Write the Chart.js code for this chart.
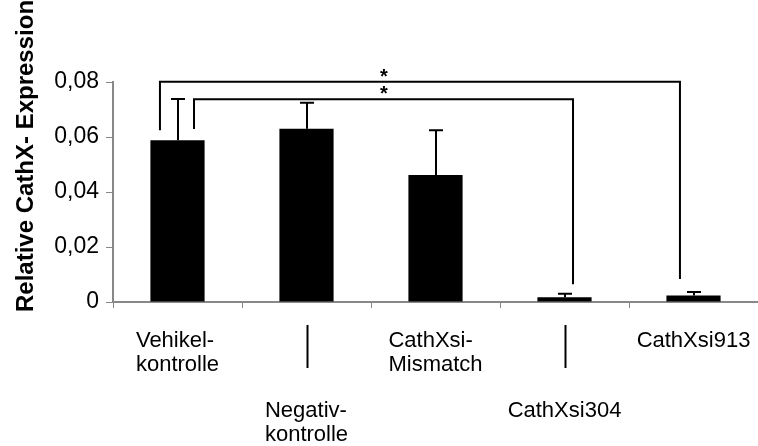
<!DOCTYPE html>
<html><head><meta charset="utf-8">
<script src="https://cdn.jsdelivr.net/npm/chart.js@4"></script>
<style>html,body{margin:0;padding:0;background:#fff}</style>
</head><body>
<canvas id="c" width="758" height="446"></canvas>
<script>
// ---- data ----
const categories = [['Vehikel-','kontrolle'],['Negativ-','kontrolle'],['CathXsi-','Mismatch'],['CathXsi304'],['CathXsi913']];
const labelRow = [0, 1, 0, 1, 0];
const means = [0.0588, 0.0630, 0.0462, 0.0017, 0.0024];
const errors = [0.0150, 0.0095, 0.0163, 0.0013, 0.0012];
const yTicks = [0, 0.02, 0.04, 0.06, 0.08];
const tickLabels = ['0', '0,02', '0,04', '0,06', '0,08'];
const yTitle = 'Relative CathX- Expression';
// significance brackets (category index / value coordinates)
const bracketFrom = [-0.136, 0.128];
const bracketTo = [3.895, 3.066];
const bracketLevel = [0.0801, 0.0737];
const bracketLegFrom = [0.0625, 0.0629];
const bracketLegTo = [0.0084, 0.0065];
const bracketMark = ['*', '*'];
const markAt = 1.6;

const FONT = '"Liberation Sans", Arial, Helvetica, sans-serif';

const extras = {
  id: 'extras',
  afterDatasetsDraw(chart) {
    const ctx = chart.ctx, xs = chart.scales.x, ys = chart.scales.y;
    ctx.save();
    ctx.strokeStyle = '#000';
    ctx.lineWidth = 2;
    means.forEach((m, i) => {
      const x = Math.round(xs.getPixelForValue(i)) ;
      const y0 = ys.getPixelForValue(m);
      const y1 = ys.getPixelForValue(m + errors[i]);
      ctx.beginPath();
      ctx.moveTo(x, y0); ctx.lineTo(x, y1);
      ctx.moveTo(x - 7, y1); ctx.lineTo(x + 7, y1);
      ctx.stroke();
    });
    ctx.restore();
  },
  afterDraw(chart) {
    const ctx = chart.ctx, xs = chart.scales.x, ys = chart.scales.y, area = chart.chartArea;
    ctx.save();
    // brackets
    ctx.strokeStyle = '#000';
    ctx.lineWidth = 2;
    ctx.fillStyle = '#000';
    bracketFrom.forEach((b, k) => {
      const xa = xs.getPixelForValue(b), xb = xs.getPixelForValue(bracketTo[k]);
      const yl = ys.getPixelForValue(bracketLevel[k]);
      ctx.beginPath();
      ctx.moveTo(xa, ys.getPixelForValue(bracketLegFrom[k]));
      ctx.lineTo(xa, yl);
      ctx.lineTo(xb, yl);
      ctx.lineTo(xb, ys.getPixelForValue(bracketLegTo[k]));
      ctx.stroke();
      ctx.font = 'bold 20px ' + FONT;
      ctx.textAlign = 'center';
      ctx.textBaseline = 'alphabetic';
      ctx.fillText(bracketMark[k], xs.getPixelForValue(markAt), yl + 1);
    });
    // category labels
    ctx.font = '22px ' + FONT;
    ctx.textAlign = 'left';
    ctx.textBaseline = 'alphabetic';
    categories.forEach((lines, i) => {
      const cx = xs.getPixelForValue(i);
      const w = Math.max(...lines.map(l => ctx.measureText(l).width));
      const left = cx - w / 2;
      const base = area.bottom + (labelRow[i] === 0 ? 45 : 115);
      lines.forEach((l, j) => ctx.fillText(l, left, base + j * 24));
      if (labelRow[i] === 1) {
        ctx.beginPath();
        ctx.moveTo(Math.round(cx) + 0.5, area.bottom + 23);
        ctx.lineTo(Math.round(cx) + 0.5, area.bottom + 66);
        ctx.stroke();
      }
    });
    // y title
    ctx.translate(33, 156);
    ctx.rotate(-Math.PI / 2);
    ctx.font = 'bold 24px ' + FONT;
    ctx.textAlign = 'center';
    ctx.textBaseline = 'alphabetic';
    ctx.fillText(yTitle, 0, 0);
    ctx.restore();
  }
};

new Chart(document.getElementById('c'), {
  type: 'bar',
  data: {
    labels: categories.map(c => c.join(' ')),
    datasets: [{
      data: means,
      backgroundColor: '#000',
      borderWidth: 0,
      barPercentage: 0.42,
      categoryPercentage: 1.0
    }]
  },
  options: {
    responsive: false,
    animation: false,
    devicePixelRatio: 1,
    layout: { padding: { top: 82, right: 0, left: 0, bottom: 0 } },
    plugins: { legend: { display: false }, tooltip: { enabled: false } },
    scales: {
      x: {
        ticks: { display: false },
        grid: { display: true, drawOnChartArea: false, drawTicks: true, tickLength: 6, color: '#888', offset: true },
        border: { color: '#888', width: 2 },
        afterFit: s => { s.height = 144; }
      },
      y: {
        min: 0, max: 0.08,
        afterBuildTicks: s => { s.ticks = yTicks.map(v => ({ value: v })); },
        ticks: {
          callback: (v, i) => tickLabels[i],
          font: { size: 23, family: FONT },
          color: '#000',
          padding: 7
        },
        grid: { drawOnChartArea: false, tickLength: 7, color: '#888' },
        border: { color: '#888', width: 2 },
        afterFit: s => { s.width = 113; }
      }
    }
  },
  plugins: [extras]
});
</script>
</body></html>
